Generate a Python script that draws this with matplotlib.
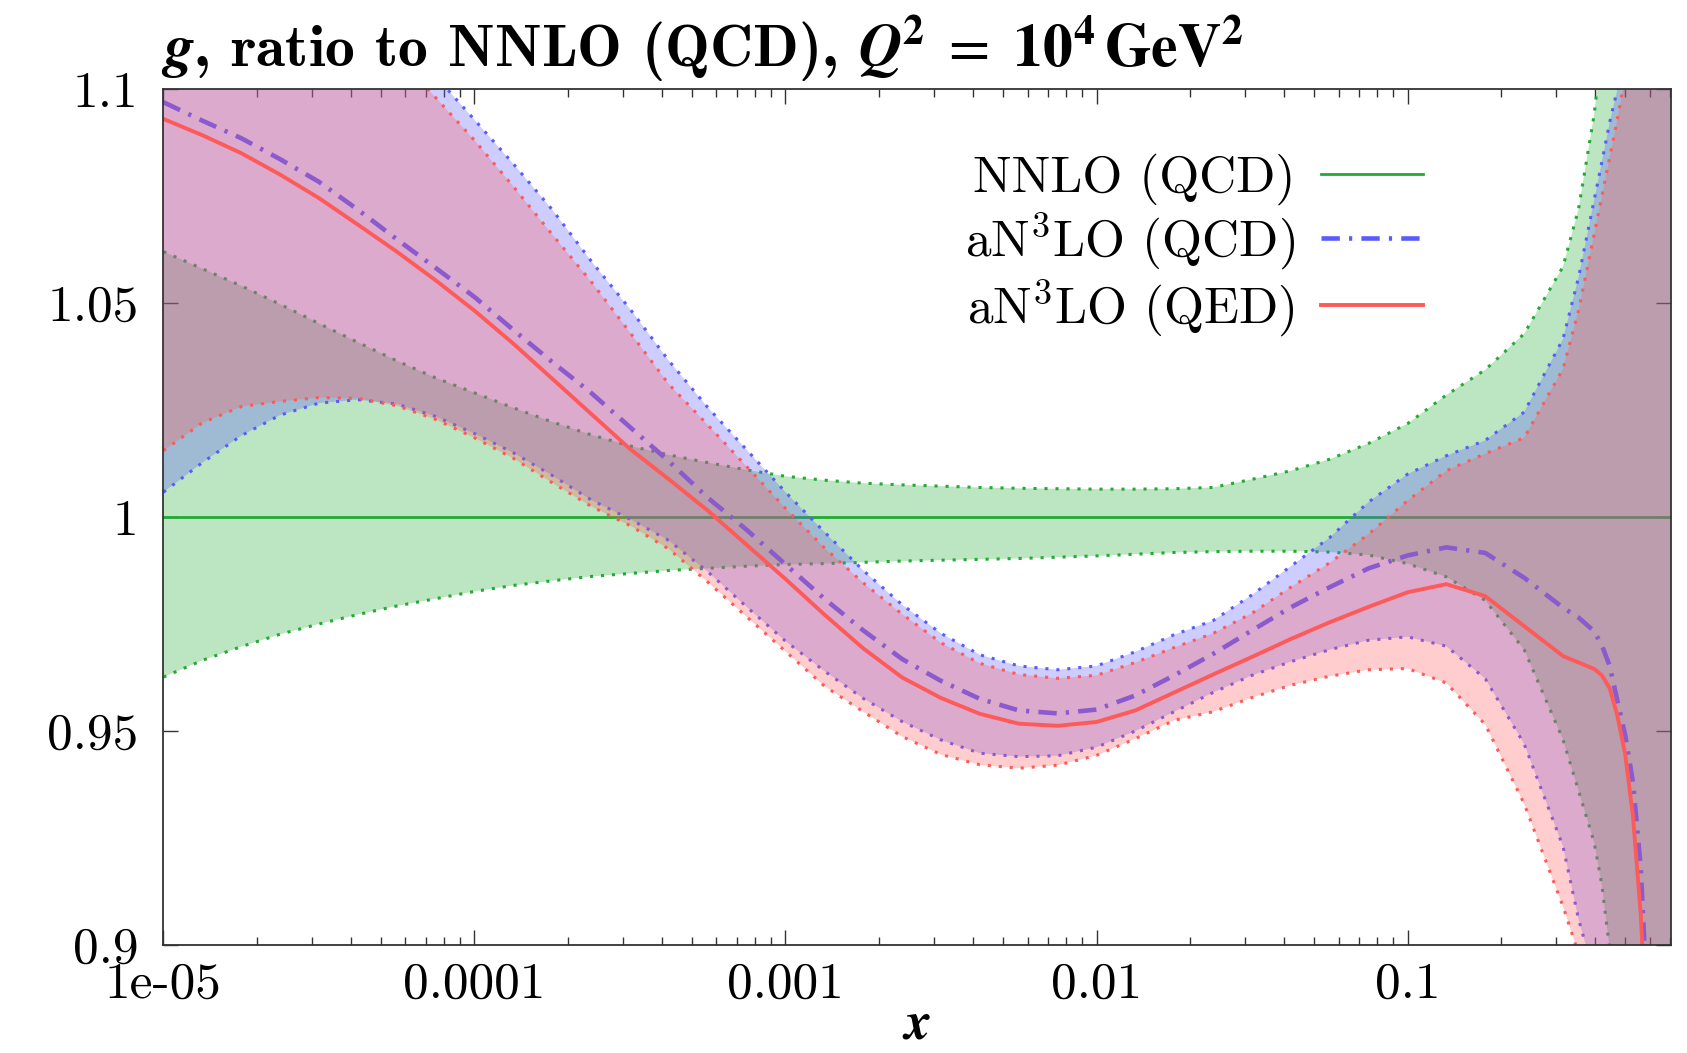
import numpy as np
import matplotlib
matplotlib.use("Agg")
import matplotlib.pyplot as plt

plt.rcParams['mathtext.fontset'] = 'cm'
plt.rcParams['axes.unicode_minus'] = False

# log10(x) sample points
x_exp = [-5.0, -4.875, -4.75, -4.625, -4.5, -4.375, -4.25, -4.125, -4.0, -3.875,
         -3.75, -3.625, -3.5, -3.375, -3.25, -3.125, -3.0, -2.875, -2.75, -2.625,
         -2.5, -2.375, -2.25, -2.125, -2.0, -1.875, -1.75, -1.625, -1.5, -1.375,
         -1.25, -1.125, -1.0, -0.875, -0.75, -0.625, -0.5, -0.45, -0.4, -0.375,
         -0.35, -0.325, -0.3, -0.275, -0.25, -0.225, -0.2, -0.154]

# NNLO (QCD) band
nnlo_c = [1.0] * len(x_exp)
nnlo_hi = [1.0620, 1.0580, 1.0540, 1.0497, 1.0452, 1.0408, 1.0365, 1.0325, 1.0290, 1.0255,
           1.0222, 1.0192, 1.0166, 1.0145, 1.0127, 1.0110, 1.0095, 1.0086, 1.0079, 1.0075,
           1.0072, 1.0069, 1.0067, 1.0066, 1.0065, 1.0065, 1.0066, 1.0069, 1.0088, 1.0108,
           1.0135, 1.0172, 1.0218, 1.0285, 1.0344, 1.0428, 1.0585, 1.0720, 1.0940, 1.1100,
           1.1300, 1.1600, 1.2000, 1.2500, 1.3000, 1.3500, 1.4000, 1.5000]
nnlo_lo = [0.9626, 0.9665, 0.9697, 0.9726, 0.9750, 0.9772, 0.9792, 0.9809, 0.9826, 0.9840,
           0.9851, 0.9861, 0.9868, 0.9875, 0.9880, 0.9885, 0.9889, 0.9891, 0.9894, 0.9897,
           0.9899, 0.9901, 0.9903, 0.9906, 0.9909, 0.9913, 0.9917, 0.9919, 0.9920, 0.9920,
           0.9918, 0.9911, 0.9891, 0.9860, 0.9805, 0.9690, 0.9480, 0.9360, 0.9240, 0.9140,
           0.8990, 0.8850, 0.8700, 0.8500, 0.8000, 0.7500, 0.7000, 0.6000]

# aN3LO (QCD) band
n3lo_c = [1.0969, 1.0926, 1.0885, 1.0836, 1.0783, 1.0718, 1.0649, 1.0582, 1.0514, 1.0437,
          1.0362, 1.0290, 1.0210, 1.0130, 1.0045, 0.9970, 0.9889, 0.9809, 0.9735, 0.9668,
          0.9617, 0.9575, 0.9548, 0.9541, 0.9550, 0.9583, 0.9630, 0.9680, 0.9735, 0.9789,
          0.9836, 0.9880, 0.9910, 0.9929, 0.9916, 0.9858, 0.9788, 0.9765, 0.9733, 0.9700,
          0.9652, 0.9570, 0.9490, 0.9380, 0.9180, 0.8800, 0.8400, 0.7500]
n3lo_hi = [1.1760, 1.1660, 1.1560, 1.1450, 1.1350, 1.1240, 1.1135, 1.1030, 1.0928, 1.0825,
           1.0718, 1.0598, 1.0486, 1.0365, 1.0256, 1.0157, 1.0058, 0.9965, 0.9875, 0.9795,
           0.9728, 0.9678, 0.9652, 0.9643, 0.9652, 0.9685, 0.9725, 0.9758, 0.9818, 0.9885,
           0.9952, 1.0035, 1.0100, 1.0143, 1.0179, 1.0245, 1.0416, 1.0560, 1.0740, 1.0830,
           1.0922, 1.1000, 1.1200, 1.1500, 1.2000, 1.2500, 1.3000, 1.4000]
n3lo_lo = [1.0058, 1.0127, 1.0190, 1.0238, 1.0266, 1.0274, 1.0264, 1.0235, 1.0195, 1.0150,
           1.0097, 1.0040, 0.9995, 0.9945, 0.9872, 0.9790, 0.9710, 0.9640, 0.9576, 0.9522,
           0.9479, 0.9448, 0.9440, 0.9442, 0.9462, 0.9500, 0.9545, 0.9590, 0.9630, 0.9662,
           0.9690, 0.9712, 0.9720, 0.9698, 0.9622, 0.9470, 0.9230, 0.9060, 0.8930, 0.8850,
           0.8750, 0.8650, 0.8500, 0.8000, 0.7500, 0.7000, 0.6500, 0.6000]

# aN3LO (QED) band
qed_c = [1.0930, 1.0892, 1.0850, 1.0800, 1.0745, 1.0683, 1.0620, 1.0553, 1.0482, 1.0405,
         1.0323, 1.0241, 1.0159, 1.0088, 1.0015, 0.9935, 0.9855, 0.9772, 0.9693, 0.9625,
         0.9577, 0.9540, 0.9517, 0.9512, 0.9521, 0.9548, 0.9590, 0.9632, 0.9673, 0.9715,
         0.9754, 0.9790, 0.9824, 0.9843, 0.9815, 0.9745, 0.9675, 0.9660, 0.9645, 0.9630,
         0.9600, 0.9535, 0.9445, 0.9300, 0.9070, 0.8700, 0.8300, 0.7500]
qed_hi = [1.1700, 1.1600, 1.1500, 1.1390, 1.1280, 1.1180, 1.1080, 1.0980, 1.0880, 1.0772,
          1.0660, 1.0550, 1.0431, 1.0310, 1.0215, 1.0118, 1.0020, 0.9928, 0.9846, 0.9773,
          0.9706, 0.9658, 0.9632, 0.9623, 0.9630, 0.9660, 0.9695, 0.9728, 0.9775, 0.9836,
          0.9893, 0.9960, 1.0038, 1.0108, 1.0148, 1.0185, 1.0346, 1.0483, 1.0660, 1.0750,
          1.0840, 1.0930, 1.1030, 1.1300, 1.2000, 1.2500, 1.3000, 1.4000]
qed_lo = [1.0155, 1.0220, 1.0258, 1.0270, 1.0279, 1.0277, 1.0260, 1.0228, 1.0185, 1.0137,
          1.0080, 1.0025, 0.9980, 0.9925, 0.9848, 0.9767, 0.9686, 0.9605, 0.9545, 0.9487,
          0.9445, 0.9421, 0.9413, 0.9420, 0.9443, 0.9482, 0.9525, 0.9545, 0.9578, 0.9607,
          0.9628, 0.9643, 0.9646, 0.9612, 0.9515, 0.9330, 0.9090, 0.8980, 0.8850, 0.8750,
          0.8650, 0.8500, 0.8300, 0.8000, 0.7500, 0.7000, 0.6500, 0.6000]

labels = ['NNLO (QCD)', r'aN$^3$LO (QCD)', r'aN$^3$LO (QED)']
xticks = [1e-5, 1e-4, 1e-3, 1e-2, 1e-1]
xticklabels = ['1e-05', '0.0001', '0.001', '0.01', '0.1']
yticks = [0.9, 0.95, 1.0, 1.05, 1.1]
yticklabels = ['0.9', '0.95', '1', '1.05', '1.1']

green = '#22aa33'
blue = '#5a5aff'
red = '#ff5a5a'

x = 10.0 ** np.array(x_exp)

fig = plt.figure(figsize=(16.87, 10.53), dpi=100)
ax = fig.add_axes([0.0969, 0.1026, 0.8934, 0.8129])

dots = (0, (1.0, 2.6))

# green band
ax.fill_between(x, nnlo_lo, nnlo_hi, color=green, alpha=0.3, lw=0, zorder=1)
ax.plot(x, nnlo_hi, color=green, lw=2.2, ls=dots, zorder=2)
ax.plot(x, nnlo_lo, color=green, lw=2.2, ls=dots, zorder=2)
l1, = ax.plot(x, nnlo_c, color=green, lw=2.0, label=labels[0], zorder=3)

# blue band
ax.fill_between(x, n3lo_lo, n3lo_hi, color=blue, alpha=0.3, lw=0, zorder=4)
ax.plot(x, n3lo_hi, color=blue, lw=2.2, ls=dots, zorder=5)
ax.plot(x, n3lo_lo, color=blue, lw=2.2, ls=dots, zorder=5)
l2, = ax.plot(x, n3lo_c, color=blue, lw=3.3, ls=(0, (4.0, 2.0, 0.7, 2.0)),
              dash_capstyle='butt', label=labels[1], zorder=6)

# red band
ax.fill_between(x, qed_lo, qed_hi, color=red, alpha=0.3, lw=0, zorder=7)
ax.plot(x, qed_hi, color=red, lw=2.2, ls=dots, zorder=8)
ax.plot(x, qed_lo, color=red, lw=2.2, ls=dots, zorder=8)
l3, = ax.plot(x, qed_c, color=red, lw=2.8, label=labels[2], zorder=9)

ax.set_xscale('log')
ax.set_xlim(1e-5, 10 ** -0.154)
ax.set_ylim(0.9, 1.1)

ax.set_xticks(xticks)
ax.set_xticklabels(xticklabels)
ax.xaxis.set_minor_locator(matplotlib.ticker.LogLocator(base=10, subs=np.arange(2, 10), numticks=20))
ax.xaxis.set_minor_formatter(matplotlib.ticker.NullFormatter())
ax.set_yticks(yticks)
ax.set_yticklabels(yticklabels)

ax.tick_params(which='both', direction='in', top=True, right=True, color='#333333')
ax.tick_params(which='major', length=11, width=1.0)
ax.tick_params(which='minor', length=5.5, width=1.0)
ax.tick_params(axis='x', pad=12)
ax.tick_params(axis='y', pad=18)
for lab in ax.get_xticklabels() + ax.get_yticklabels():
    lab.set_fontfamily(['cmr10', 'DejaVu Serif'])
    lab.set_fontsize(37)
for sp in ax.spines.values():
    sp.set_color('#333333')
    sp.set_linewidth(1.3)
    sp.set_zorder(10)

leg = ax.legend(handles=[l1, l2, l3], loc='upper right', bbox_to_anchor=(0.853, 0.955),
                frameon=False, markerfirst=False, borderpad=0, handlelength=2.0,
                handletextpad=0.5, labelspacing=0.1,
                prop={'family': ['cmr10', 'DejaVu Serif'], 'size': 37})
leg.set_zorder(11)

fig.text(0.0954, 0.9364,
         r'$\mathbfit{g}$, ratio to NNLO (QCD), '
         r'$\mathbfit{Q}^{\mathbf{2}}\ =\ \mathbf{10^{4}}\,\mathbf{GeV}^{\mathbf{2}}$',
         fontfamily=['cmb10', 'DejaVu Serif'], fontsize=43, math_fontfamily='stix',
         ha='left', va='baseline')
fig.text(0.5435, 0.028, r'$\mathbfit{x}$', fontsize=38, math_fontfamily='stix',
         ha='center', va='center')

fig.savefig('out.png', dpi=100)
